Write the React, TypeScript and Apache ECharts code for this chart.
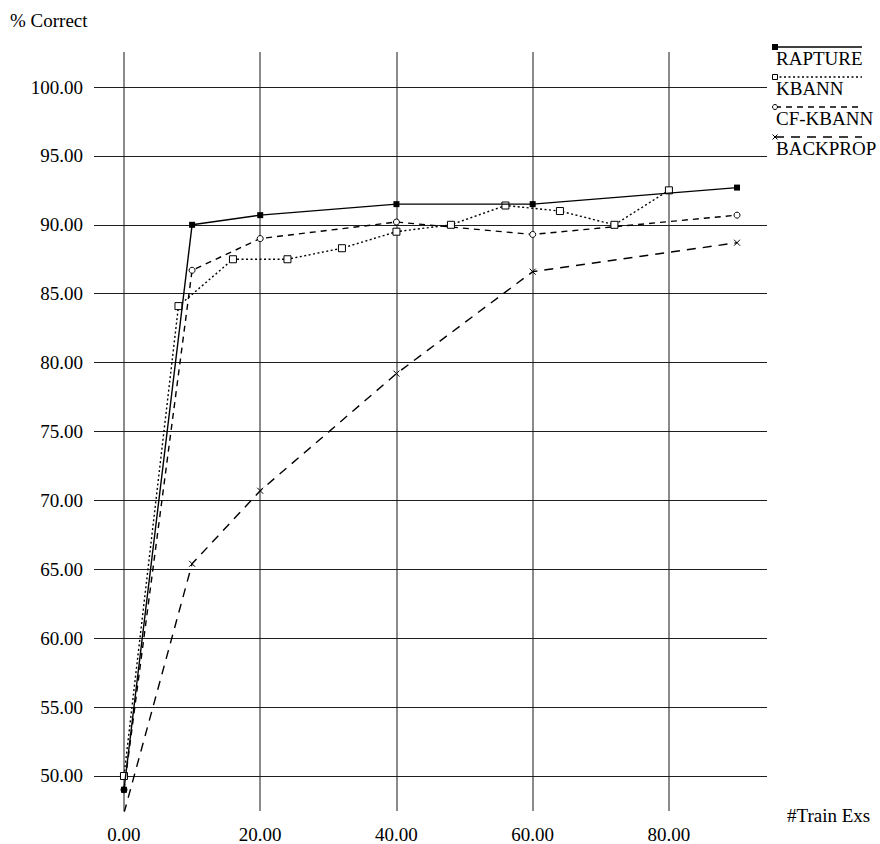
import React, { useEffect, useRef } from 'react';
import * as echarts from 'echarts';

const seriesNames = ['RAPTURE', 'KBANN', 'CF-KBANN', 'BACKPROP'];
const raptureX = [0, 10, 20, 40, 60, 90];
const raptureY = [49.0, 90.0, 90.7, 91.5, 91.5, 92.7];
const kbannX = [0, 8, 16, 24, 32, 40, 48, 56, 64, 72, 80];
const kbannY = [50.0, 84.1, 87.5, 87.5, 88.3, 89.5, 90.0, 91.4, 91.0, 90.0, 92.5];
const cfX = [0, 10, 20, 40, 60, 90];
const cfY = [49.0, 86.7, 89.0, 90.2, 89.3, 90.7];
const bpX = [0, 10, 20, 40, 60, 90];
const bpY = [47.3, 65.4, 70.7, 79.2, 86.6, 88.7];
const xTicks = [0, 20, 40, 60, 80];
const yTicks = [50, 55, 60, 65, 70, 75, 80, 85, 90, 95, 100];
const xName = '#Train Exs';
const yName = '% Correct';

const FONT = 'Liberation Serif, DejaVu Serif, serif';
const FS = 19;
const CROSS = 'path://M0,0L10,10M10,0L0,10';

export default function App() {
  const ref = useRef<HTMLDivElement>(null);
  useEffect(() => {
    if (!ref.current) return;
    const chart = echarts.init(ref.current, undefined, { renderer: 'svg' });
    const pairs = (xs: number[], ys: number[]) => xs.map((x, i) => [x, ys[i]]);

    const styles = [
      { dash: 'solid' as any, symbol: 'rect', size: 6, fill: '#000', border: '#000' },
      { dash: [2, 2.5], symbol: 'rect', size: 7, fill: '#fff', border: '#000' },
      { dash: [6, 5], symbol: 'circle', size: 6, fill: '#fff', border: '#000' },
      { dash: [9, 7], symbol: CROSS, size: 6, fill: 'none', border: '#000' },
    ];
    const datas = [pairs(raptureX, raptureY), pairs(kbannX, kbannY), pairs(cfX, cfY), pairs(bpX, bpY)];

    const dataSeries = seriesNames.map((name, i) => ({
      name,
      type: 'line',
      data: datas[i],
      clip: true,
      symbol: styles[i].symbol,
      symbolSize: styles[i].size,
      showAllSymbol: true,
      z: 10 - i,
      lineStyle: { color: '#000', width: 1.4, type: styles[i].dash },
      itemStyle: { color: styles[i].fill, borderColor: styles[i].border, borderWidth: i === 0 ? 0 : 1 },
      emphasis: { disabled: true },
    }));

    const legendGraphics: any[] = [];
    const lx = 775;
    const lineYs = [47, 77, 107, 137];
    seriesNames.forEach((name, i) => {
      const y = lineYs[i];
      legendGraphics.push({
        type: 'line',
        shape: { x1: lx, y1: y, x2: 862, y2: y },
        style: { stroke: '#000', lineWidth: 1.4, lineDash: Array.isArray(styles[i].dash) ? styles[i].dash : null },
      });
      if (i === 0) {
        legendGraphics.push({ type: 'rect', shape: { x: lx - 3, y: y - 3, width: 6, height: 6 }, style: { fill: '#000' } });
      } else if (i === 1) {
        legendGraphics.push({ type: 'rect', shape: { x: lx - 2.5, y: y - 2.5, width: 5, height: 5 }, style: { fill: '#fff', stroke: '#000', lineWidth: 1 } });
      } else if (i === 2) {
        legendGraphics.push({ type: 'circle', shape: { cx: lx, cy: y, r: 2.5 }, style: { fill: '#fff', stroke: '#000', lineWidth: 1 } });
      } else {
        legendGraphics.push({ type: 'line', shape: { x1: lx - 2.5, y1: y - 2.5, x2: lx + 2.5, y2: y + 2.5 }, style: { stroke: '#000', lineWidth: 1 } });
        legendGraphics.push({ type: 'line', shape: { x1: lx + 2.5, y1: y - 2.5, x2: lx - 2.5, y2: y + 2.5 }, style: { stroke: '#000', lineWidth: 1 } });
      }
      legendGraphics.push({
        type: 'text',
        x: lx + 1,
        y: y + 11,
        style: { text: name, fontFamily: FONT, fontSize: FS, fill: '#000', verticalAlign: 'middle', align: 'left' },
      });
    });

    chart.setOption({
      animation: false,
      backgroundColor: '#fff',
      grid: { left: 94, top: 52, width: 673, height: 760, containLabel: false },
      xAxis: {
        type: 'value',
        min: -4.4,
        max: 94.4,
        axisLine: { show: false },
        axisTick: { show: false },
        splitLine: { show: false },
        axisLabel: {
          customValues: xTicks,
          formatter: (v: number) => v.toFixed(2),
          margin: 14,
          color: '#000',
          fontFamily: FONT,
          fontSize: FS,
        },
      },
      yAxis: {
        type: 'value',
        min: 47.46,
        max: 102.54,
        axisLine: { show: false },
        axisTick: { show: false },
        splitLine: { show: false },
        axisLabel: {
          customValues: yTicks,
          formatter: (v: number) => v.toFixed(2),
          margin: 11,
          color: '#000',
          fontFamily: FONT,
          fontSize: FS,
        },
      },
      graphic: [
        { type: 'text', x: 10, y: 20, style: { text: yName, fontFamily: FONT, fontSize: FS, fill: '#000', verticalAlign: 'middle' } },
        { type: 'text', x: 787, y: 815, style: { text: xName, fontFamily: FONT, fontSize: FS, fill: '#000', verticalAlign: 'middle' } },
        ...legendGraphics,
      ],
      series: [
        {
          type: 'line',
          data: [],
          z: 1,
          silent: true,
          markLine: {
            silent: true,
            symbol: ['none', 'none'],
            label: { show: false },
            emphasis: { disabled: true },
            data: [
              ...xTicks.map((v) => ({ xAxis: v, lineStyle: { color: '#6e6e6e', width: 1.6, type: 'solid' } })),
              ...yTicks.map((v) => ({ yAxis: v, lineStyle: { color: '#1e1e1e', width: 1.1, type: 'solid' } })),
            ],
          },
        },
        ...dataSeries.slice().reverse(),
      ],
    } as any);
    return () => chart.dispose();
  }, []);
  return <div ref={ref} style={{ width: 880, height: 844, position: 'absolute', left: 0, top: 0 }} />;
}
